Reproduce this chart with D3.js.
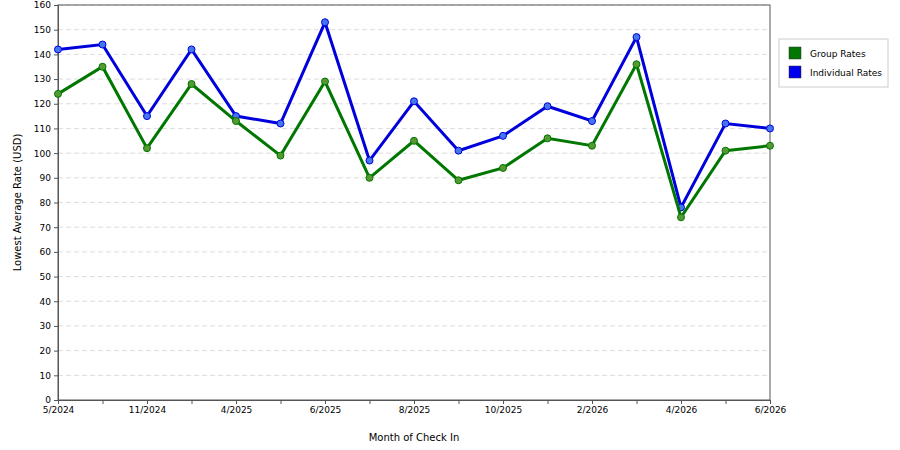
<!DOCTYPE html>
<html><head><meta charset="utf-8">
<script src="https://cdn.jsdelivr.net/npm/d3@7"></script>
<style>body{margin:0;background:#fff}text{font-family:"DejaVu Sans",sans-serif}</style>
</head><body>
<svg id="chart" width="900" height="450"></svg>
<script>
// One point per month; only every other month gets a tick label
const months = ["5/2024", "", "11/2024", "", "4/2025", "", "6/2025", "", "8/2025", "", "10/2025", "", "2/2026", "", "4/2026", "", "6/2026"];
const groupRates = [124, 135, 102, 128, 113, 99, 129, 90, 105, 89, 94, 106, 103, 136, 74, 101, 103];
const individualRates = [142, 144, 115, 142, 115, 112, 153, 97, 121, 101, 107, 119, 113, 147, 78, 112, 110];
const yTicks = d3.range(0, 161, 10);

const svg = d3.select("#chart");
const margins = { top: 5, right: 130, bottom: 50, left: 58 };
const w = 900, h = 450;

let x = d3.scalePoint().domain(d3.range(months.length)).range([margins.left, w - margins.right]);
let y = d3.scaleLinear().domain([0, 160]).range([h - margins.bottom, margins.top]);

// grid lines
svg.append("g").selectAll("line").data(yTicks.slice(1)).join("line")
  .attr("x1", margins.left).attr("x2", w - margins.right)
  .attr("y1", d => y(d)).attr("y2", d => y(d))
  .attr("stroke", "#ddd").attr("stroke-dasharray", "5,3");

// frame
svg.append("rect")
  .attr("x", margins.left).attr("y", margins.top)
  .attr("width", w - margins.right - margins.left)
  .attr("height", h - margins.bottom - margins.top)
  .attr("fill", "none").attr("stroke", "#555");

let yAxis = svg.append("g").attr("transform", "translate(" + margins.left + ",0)")
  .call(d3.axisLeft(y).tickValues(yTicks).tickSize(4).tickPadding(3));
let xAxis = svg.append("g").attr("transform", "translate(0," + (h - margins.bottom) + ")")
  .call(d3.axisBottom(x).tickFormat(i => months[i]).tickSize(4).tickPadding(3));
[xAxis, yAxis].forEach(a => {
  a.selectAll("text").attr("font-size", 9).attr("fill", "#000").style("font-family", "DejaVu Sans");
  a.select(".domain").attr("stroke", "#555");
  a.selectAll(".tick line").attr("stroke", "#555");
});
xAxis.selectAll(".tick").filter(i => months[i] === "").select("line").attr("y2", 4);

svg.append("text").attr("x", (margins.left + w - margins.right) / 2).attr("y", 441)
  .attr("text-anchor", "middle").attr("font-size", 10).text("Month of Check In");
svg.append("text").attr("transform", "translate(21," + ((h - margins.bottom + margins.top) / 2) + ") rotate(-90)")
  .attr("text-anchor", "middle").attr("font-size", 10).text("Lowest Average Rate (USD)");

const series = [
  { name: "Individual Rates", values: individualRates, color: "#0000dd", dot: "#4477ee" },
  { name: "Group Rates", values: groupRates, color: "#007700", dot: "#559933" }
];
let line = d3.line().x((d, i) => x(i)).y(d => y(d));
series.forEach(s => {
  svg.append("path").datum(s.values).attr("d", line)
    .attr("fill", "none").attr("stroke", s.color).attr("stroke-width", 3);
  svg.append("g").selectAll("circle").data(s.values).join("circle")
    .attr("cx", (d, i) => x(i)).attr("cy", d => y(d)).attr("r", 3.5)
    .attr("fill", s.dot).attr("stroke", s.color).attr("stroke-width", 1);
});

// legend
let lg = svg.append("g").attr("transform", "translate(779,39)");
lg.append("rect").attr("width", 109).attr("height", 48).attr("fill", "#fff").attr("stroke", "#ccc");
[["Group Rates", "#007700"], ["Individual Rates", "#0000ee"]].forEach((d, i) => {
  lg.append("rect").attr("x", 10).attr("y", 8 + i * 19).attr("width", 12).attr("height", 12)
    .attr("fill", d[1]).attr("stroke", "#333").attr("stroke-width", 0.5);
  lg.append("text").attr("x", 31).attr("y", 18 + i * 19).attr("font-size", 9).text(d[0]);
});
</script>
</body></html>
